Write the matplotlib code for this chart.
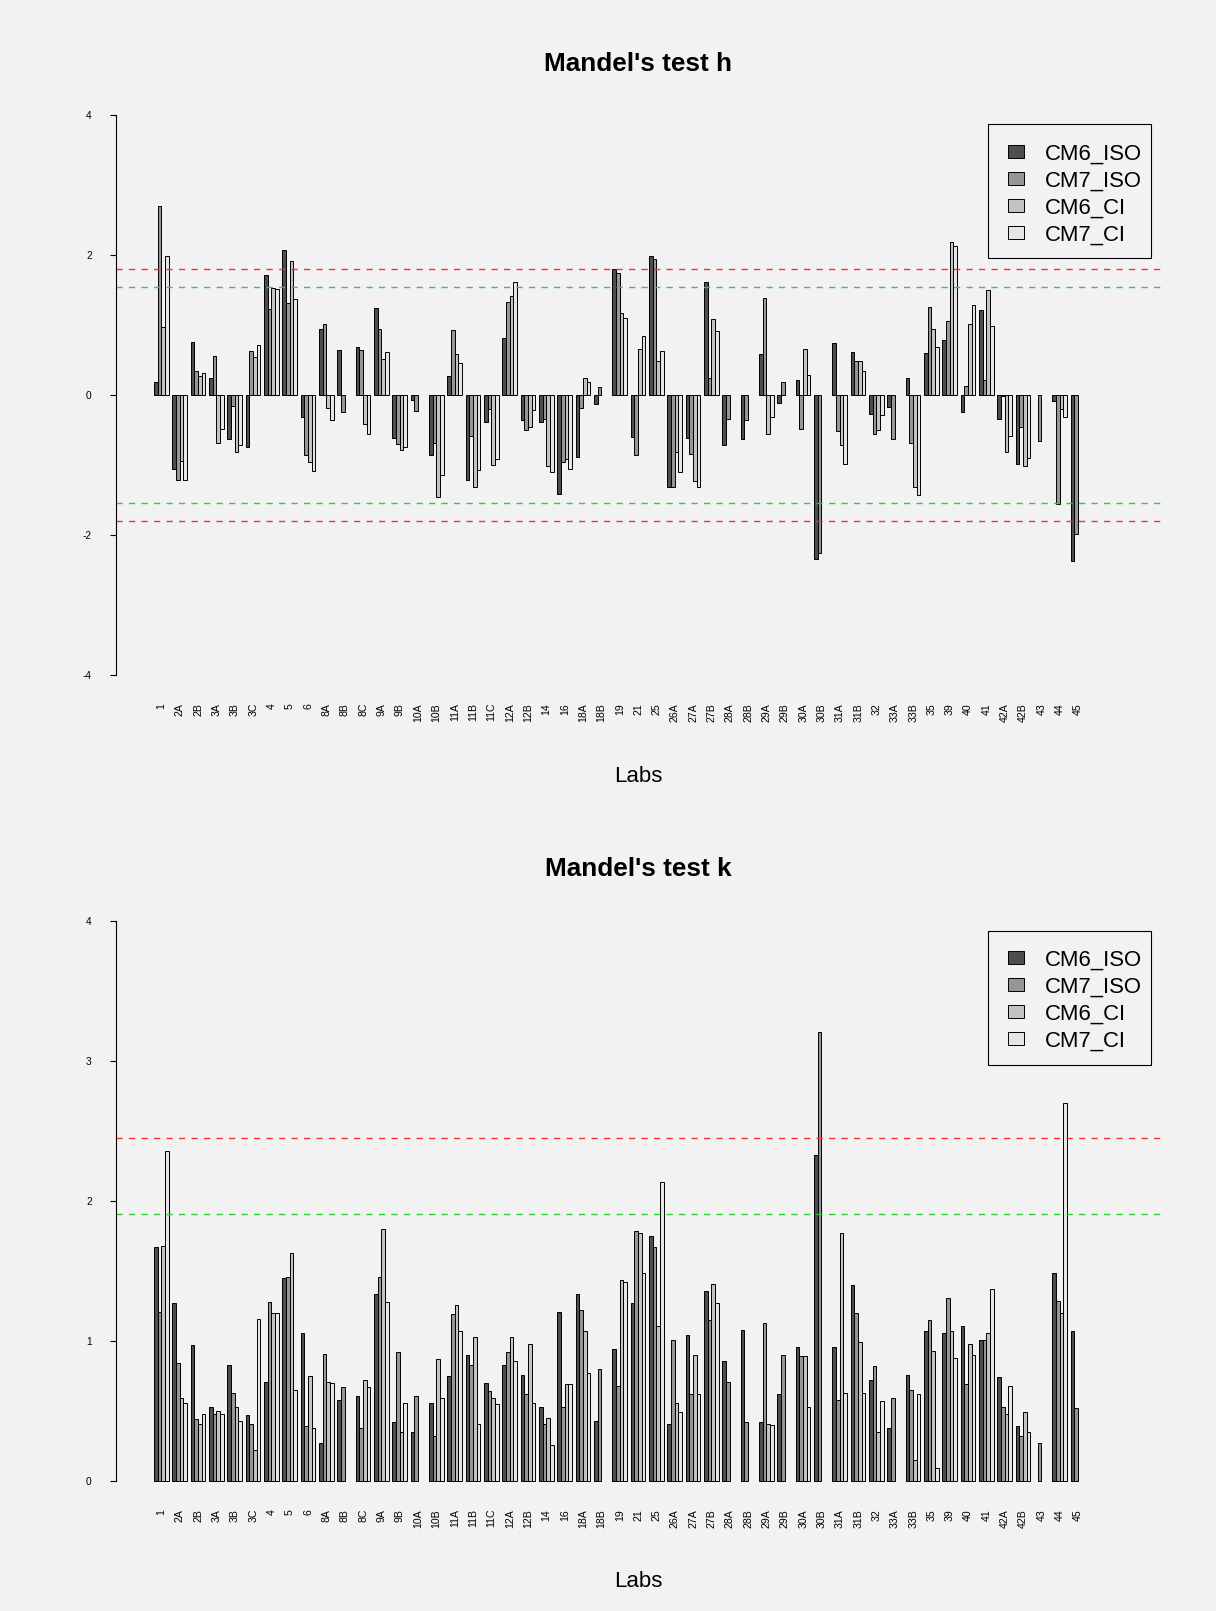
import numpy as np
import matplotlib
matplotlib.use("Agg")
import matplotlib.pyplot as plt
from matplotlib.patches import Rectangle

plt.rcParams['font.family'] = ['Liberation Sans', 'DejaVu Sans']

nan = np.nan

labs = ["1", "2A", "2B", "3A", "3B", "3C", "4", "5", "6", "8A", "8B", "8C", "9A", "9B",
        "10A", "10B", "11A", "11B", "11C", "12A", "12B", "14", "16", "18A", "18B", "19",
        "21", "25", "26A", "27A", "27B", "28A", "28B", "29A", "29B", "30A", "30B", "31A",
        "31B", "32", "33A", "33B", "35", "39", "40", "41", "42A", "42B", "43", "44", "45"]

series_names = ["CM6_ISO", "CM7_ISO", "CM6_CI", "CM7_CI"]
series_colors = ["#4D4D4D", "#969696", "#C3C3C3", "#E6E6E6"]

# Mandel h
h_cm6_iso = [0.18, -1.05, 0.76, 0.24, -0.63, -0.74, 1.71, 2.07, -0.32, 0.95, 0.64, 0.68, 1.25,
             -0.61, -0.07, -0.86, 0.27, -1.21, -0.38, 0.82, -0.35, -0.38, -1.41, -0.89, -0.13,
             1.80, -0.60, 1.98, -1.31, -0.62, 1.62, -0.72, -0.63, 0.59, -0.11, 0.21, -2.34,
             0.75, 0.61, -0.27, -0.17, 0.24, 0.60, 0.78, -0.24, 1.21, -0.34, -0.99, nan,
             -0.08, -2.37]
h_cm7_iso = [2.70, -1.21, 0.35, 0.56, -0.15, 0.63, 1.23, 1.31, -0.85, 1.02, -0.24, 0.64, 0.95,
             -0.70, -0.23, -0.68, 0.93, -0.58, -0.20, 1.33, -0.50, -0.34, -0.96, -0.18, 0.12,
             1.75, -0.85, 1.95, -1.32, -0.84, 0.24, -0.34, -0.36, 1.38, 0.18, -0.48, -2.25,
             -0.51, 0.48, -0.55, -0.63, -0.68, 1.26, 1.06, 0.13, 0.22, -0.02, -0.45, -0.66,
             -1.55, -1.98]
h_cm6_ci = [0.97, -0.94, 0.27, -0.68, -0.81, 0.55, 1.53, 1.92, -0.96, -0.18, nan, -0.42, 0.52,
            -0.79, nan, -1.45, 0.59, -1.32, -1.00, 1.42, -0.45, -1.02, -0.91, 0.24, nan,
            1.17, 0.66, 0.49, -0.81, -1.23, 1.08, nan, nan, -0.56, nan, 0.66, nan,
            -0.71, 0.49, -0.50, nan, -1.32, 0.94, 2.18, 1.02, 1.50, -0.81, -1.01, nan,
            -0.20, nan]
h_cm7_ci = [1.99, -1.22, 0.31, -0.48, -0.72, 0.72, 1.51, 1.37, -1.08, -0.36, nan, -0.56, 0.61,
            -0.74, nan, -1.14, 0.46, -1.07, -0.91, 1.61, -0.22, -1.10, -1.05, 0.18, nan,
            1.10, 0.84, 0.63, -1.10, -1.31, 0.91, nan, nan, -0.32, nan, 0.28, nan,
            -0.99, 0.34, -0.29, nan, -1.43, 0.68, 2.13, 1.29, 0.98, -0.58, -0.90, nan,
            -0.31, nan]

# Mandel k
k_cm6_iso = [1.67, 1.27, 0.97, 0.53, 0.83, 0.47, 0.71, 1.45, 1.06, 0.27, 0.58, 0.61, 1.34,
             0.42, 0.35, 0.56, 0.75, 0.90, 0.70, 0.83, 0.76, 0.53, 1.21, 1.34, 0.43, 0.94,
             1.27, 1.75, 0.41, 1.04, 1.36, 0.86, 1.08, 0.42, 0.62, 0.96, 2.33, 0.96, 1.40,
             0.72, 0.38, 0.76, 1.07, 1.06, 1.11, 1.01, 0.74, 0.39, nan, 1.49, 1.07]
k_cm7_iso = [1.21, 0.84, 0.44, 0.48, 0.63, 0.41, 1.28, 1.46, 0.39, 0.91, 0.67, 0.38, 1.46,
             0.92, 0.61, 0.32, 1.19, 0.83, 0.64, 0.92, 0.62, 0.41, 0.53, 1.22, 0.80, 0.68,
             1.79, 1.67, 1.01, 0.62, 1.15, 0.71, 0.42, 1.13, 0.90, 0.89, 3.21, 0.58, 1.20,
             0.82, 0.59, 0.65, 1.15, 1.31, 0.69, 1.01, 0.53, 0.32, 0.27, 1.29, 0.52]
k_cm6_ci = [1.68, 0.59, 0.41, 0.50, 0.53, 0.22, 1.20, 1.63, 0.75, 0.71, nan, 0.72, 1.80,
            0.35, nan, 0.87, 1.26, 1.03, 0.59, 1.03, 0.98, 0.45, 0.69, 1.07, nan, 1.44,
            1.77, 1.11, 0.56, 0.90, 1.41, nan, nan, 0.41, nan, 0.89, nan, 1.77, 0.99,
            0.35, nan, 0.15, 0.93, 1.07, 0.98, 1.06, 0.48, 0.49, nan, 1.20, nan]
k_cm7_ci = [2.36, 0.56, 0.48, 0.48, 0.43, 1.16, 1.20, 0.65, 0.38, 0.70, nan, 0.67, 1.28,
            0.56, nan, 0.59, 1.07, 0.41, 0.55, 0.86, 0.56, 0.26, 0.69, 0.77, nan, 1.42,
            1.49, 2.14, 0.49, 0.62, 1.27, nan, nan, 0.40, nan, 0.53, nan, 0.63, 0.63,
            0.57, nan, 0.62, 0.09, 0.88, 0.90, 1.37, 0.68, 0.35, nan, 2.70, nan]

h_crit = [1.80, 1.54]   # 1% and 5%
k_crit = [2.45, 1.91]

BG = "#F2F2F2"
W, H = 1216, 1611

fig = plt.figure(figsize=(W / 100, H / 100), dpi=100, facecolor=BG)


def fx(px):
    return px / W


def fy(py):
    return 1 - py / H


def legend_box(top):
    # R style legend, drawn in figure pixels
    fig.patches.append(Rectangle((fx(987.5), fy(top + 134)), fx(1150.5) - fx(987.5),
                                 (134) / H, transform=fig.transFigure, facecolor=BG,
                                 edgecolor='black', linewidth=0.8, zorder=5))
    for i, (name, col) in enumerate(zip(series_names, series_colors)):
        cy = top + 27 + i * 27.1
        fig.patches.append(Rectangle((fx(1007.5), fy(cy + 6.5)), 16 / W, 13 / H,
                                     transform=fig.transFigure, facecolor=col,
                                     edgecolor='black', linewidth=0.7, zorder=6))
        fig.text(fx(1044.5), fy(cy), name, ha='left', va='center_baseline',
                 fontsize=15.9, zorder=7)


def panel(rect, data, ylim, yticks, spine_bounds, crit, two_sided, title, title_y, lab_y, leg_top):
    ax = fig.add_axes(rect)
    ax.set_facecolor(BG)
    groups = np.arange(len(labs))
    for j, (vals, col) in enumerate(zip(data, series_colors)):
        ax.bar(groups * 5 + 1 + j, vals, width=1, align='edge', color=col,
               edgecolor='black', linewidth=0.7)
    for c, lc in zip(crit, ["#FF3030", "#33CC33"]):
        ax.axhline(c, color=lc, lw=1.0, ls=(0, (4.5, 4.5)))
        if two_sided:
            ax.axhline(-c, color=lc, lw=1.0, ls=(0, (4.5, 4.5)))
    ax.set_xlim(-9.4, 275.6)
    ax.set_ylim(*ylim)
    for s in ['top', 'right', 'bottom']:
        ax.spines[s].set_visible(False)
    ax.spines['left'].set_bounds(*spine_bounds)
    ax.spines['left'].set_linewidth(0.8)
    ax.set_yticks(yticks)
    ax.set_yticklabels([str(t) for t in yticks], fontsize=7.3)
    ax.tick_params(axis='y', length=4.5, width=0.8, pad=13)
    ax.set_xticks(groups * 5 + 3)
    ax.set_xticklabels(labs, rotation=90, fontsize=7.6)
    ax.tick_params(axis='x', length=0, pad=4)
    cx = rect[0] + rect[2] / 2
    fig.text(cx, title_y, title, ha='center', va='center', fontsize=18.8, fontweight='bold')
    fig.text(cx, lab_y, "Labs", ha='center', va='center', fontsize=16)
    legend_box(leg_top)
    return ax


left = 116 / W
width = (1161 - 116) / W

panel([left, 0.5671, width, 0.3754],
      [h_cm6_iso, h_cm7_iso, h_cm6_ci, h_cm7_ci],
      (-4.32, 4.32), [-4, -2, 0, 2, 4], (-4, 4), h_crit, True,
      "Mandel's test h", fy(63.8), fy(776.5), 124.3)

panel([left, 0.0668, width, 0.3752],
      [k_cm6_iso, k_cm7_iso, k_cm6_ci, k_cm7_ci],
      (-0.16, 4.16), [0, 1, 2, 3, 4], (0, 4), k_crit, False,
      "Mandel's test k", fy(869), fy(1581.7), 930.5)

fig.savefig("out.png", dpi=100, facecolor=BG)
